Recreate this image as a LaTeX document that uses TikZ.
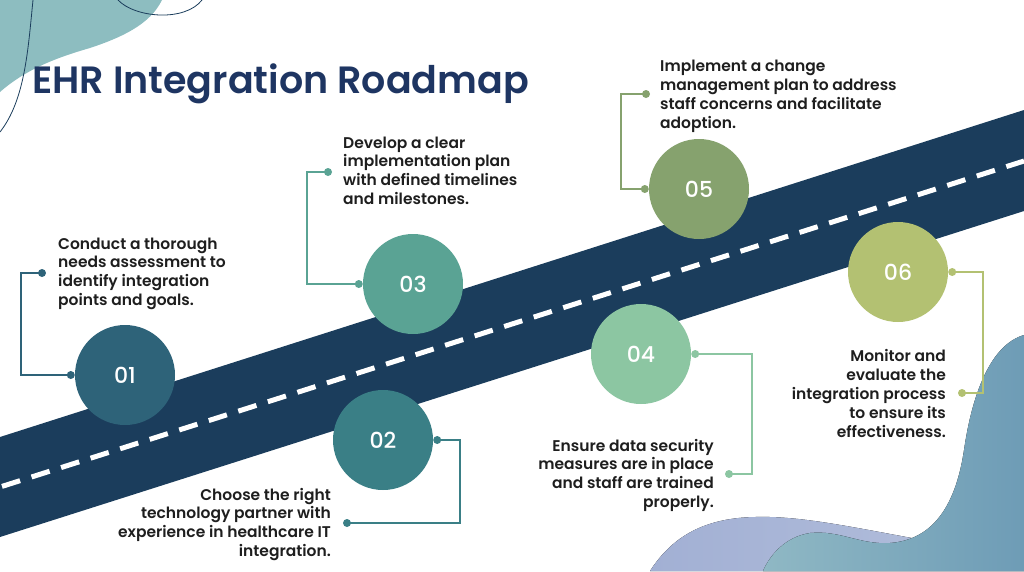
\documentclass[tikz,border=0pt]{standalone}
\usepackage{fontspec}
\setmainfont{Poppins}[UprightFont=* Medium, BoldFont=* SemiBold]
\usetikzlibrary{calc}
\definecolor{navy}{HTML}{1B3D5C}
\definecolor{titlecol}{HTML}{1E3562}
\definecolor{txt}{HTML}{1E1E1E}
\definecolor{cA}{HTML}{2E6379}
\definecolor{cB}{HTML}{3A7F86}
\definecolor{cC}{HTML}{5AA394}
\definecolor{cD}{HTML}{8CC6A2}
\definecolor{cE}{HTML}{86A26E}
\definecolor{cF}{HTML}{B3C172}
\definecolor{blobTL}{HTML}{8DBDC0}
\definecolor{blobR}{HTML}{8FB8C4}
\definecolor{blobRd}{HTML}{6E9CB6}
\definecolor{blobP}{HTML}{A2B0D4}
\definecolor{blobPl}{HTML}{B4BFDC}
\begin{document}
\begin{tikzpicture}[x=1pt,y=-1pt,
  stepcircle/.style={circle, minimum size=100pt, inner sep=0pt, text=white,
    font=\fontsize{22}{22}\selectfont},
  dot/.style={circle, minimum size=8pt, inner sep=0pt},
  conn/.style={line width=2pt},
  desc/.style={inner sep=0pt, text=txt, font=\fontsize{15.5}{18.8}\selectfont\bfseries},
]
\useasboundingbox (0,0) rectangle (1024,571);
% decorative blobs
\fill[blobTL] (0,0) -- (162,0) .. controls (150,25) and (120,38) .. (90,48)
  .. controls (55,58) and (25,70) .. (0,92) -- cycle;
\draw[navy, line width=0.8pt] (33,0) .. controls (28,50) and (25,100) .. (0,132);
\draw[navy, line width=0.8pt] (118,0) .. controls (135,18) and (185,22) .. (202,0);
\fill[left color=blobP, right color=blobPl] (650,571) .. controls (670,540) and (700,518) .. (755,517)
  .. controls (820,515) and (900,540) .. (1024,556) -- (1024,571) -- cycle;
\fill[left color=blobR, right color=blobRd] (1024,335) .. controls (990,345) and (972,395) .. (964,450)
  .. controls (955,510) and (930,540) .. (890,543)
  .. controls (860,545) and (840,530) .. (810,533)
  .. controls (785,537) and (770,555) .. (763,571) -- (1024,571) -- cycle;
% road
\fill[navy] (0,437) -- (1024,110) -- (1024,211) -- (0,537) -- cycle;
\draw[white, line width=5pt, dash pattern=on 19pt off 12pt] (2,486.4) -- (1024,161);
% title
\node[anchor=base west, inner sep=0pt, text=titlecol, font=\fontsize{38}{38}\selectfont\bfseries]
  (title) at (32,93) {EHR Integration Roadmap};
% circles
\node[stepcircle, fill=cA] (c1) at (125,375) {01};
\node[stepcircle, fill=cB] (c2) at (383,440) {02};
\node[stepcircle, fill=cC] (c3) at (413,284) {03};
\node[stepcircle, fill=cD] (c4) at (641,354) {04};
\node[stepcircle, fill=cE] (c5) at (699,189) {05};
\node[stepcircle, fill=cF] (c6) at (898,272) {06};
% connector dots
\node[dot, fill=cA] (a1) at ([xshift=-4pt]c1.west) {};
\node[dot, fill=cA] (b1) at (42,273) {};
\node[dot, fill=cB] (a2) at ([xshift=4pt]c2.east) {};
\node[dot, fill=cB] (b2) at (347,523) {};
\node[dot, fill=cC] (a3) at ([xshift=-4pt]c3.west) {};
\node[dot, fill=cC] (b3) at (328,172) {};
\node[dot, fill=cD] (a4) at ([xshift=4pt]c4.east) {};
\node[dot, fill=cD] (b4) at (729,474) {};
\node[dot, fill=cE] (a5) at ([xshift=-4pt]c5.west) {};
\node[dot, fill=cE] (b5) at (646,94) {};
\node[dot, fill=cF] (a6) at ([xshift=4pt]c6.east) {};
\node[dot, fill=cF] (b6) at (962,393) {};
% connectors
\draw[conn, cA] (a1.center) -- ++(-50,0) |- (b1.center);
\draw[conn, cB] (a2.center) -- ++(23,0) |- (b2.center);
\draw[conn, cC] (a3.center) -- ++(-52,0) |- (b3.center);
\draw[conn, cD] (a4.center) -- ++(57,0) |- (b4.center);
\draw[conn, cE] (a5.center) -- ++(-24,0) |- (b5.center);
\draw[conn, cF] (a6.center) -- ++(31,0) |- (b6.center);
% descriptions
\node[desc, anchor=north west, align=left] (t1) at (58,235.8)
  {\strut Conduct a thorough\\needs assessment to\\identify integration\\points and goals.};
\node[desc, anchor=north east, align=right] (t2) at (331,486.8)
  {\strut Choose the right\\technology partner with\\experience in healthcare IT\\integration.};
\node[desc, anchor=north west, align=left] (t3) at (343,134.8)
  {\strut Develop a clear\\implementation plan\\with defined timelines\\and milestones.};
\node[desc, anchor=north east, align=right] (t4) at (714,437.8)
  {\strut Ensure data security\\measures are in place\\and staff are trained\\properly.};
\node[desc, anchor=north west, align=left] (t5) at (660,58.5)
  {\strut Implement a change\\management plan to address\\staff concerns and facilitate\\adoption.};
\node[desc, anchor=north east, align=right] (t6) at (946,348.5)
  {\strut Monitor and\\evaluate the\\integration process\\to ensure its\\effectiveness.};
\end{tikzpicture}
\end{document}
